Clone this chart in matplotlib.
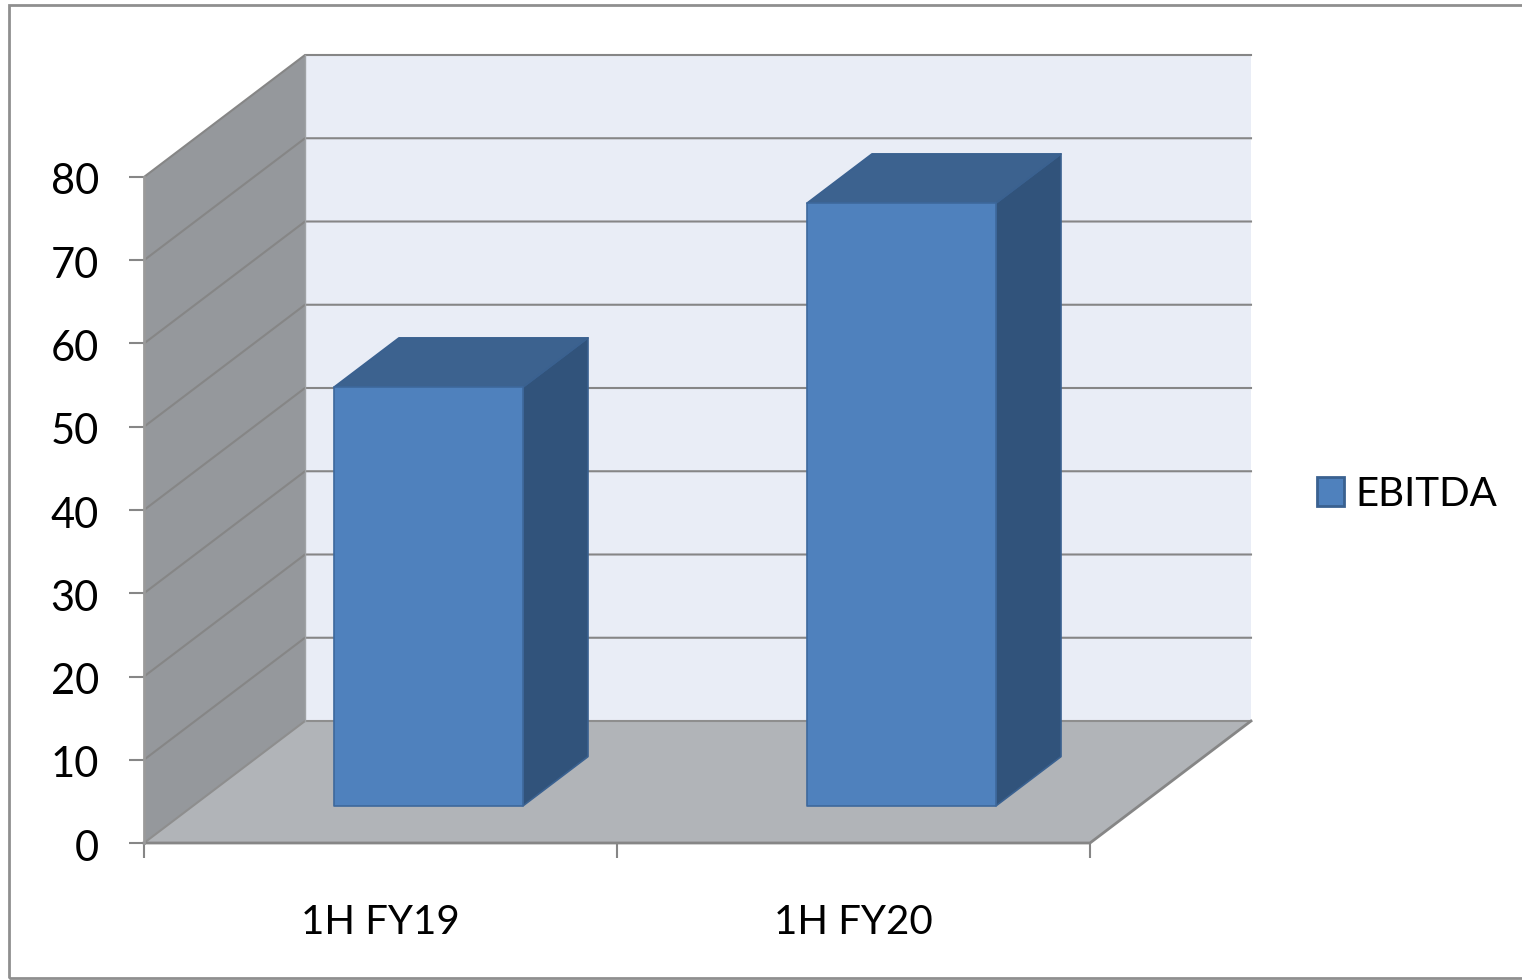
import matplotlib
matplotlib.use("Agg")
import matplotlib.pyplot as plt
from matplotlib.patches import Polygon, Rectangle, Patch
from matplotlib.transforms import ScaledTranslation

plt.rcParams['font.family'] = ['Lato', 'DejaVu Sans']

categories = ["1H FY19", "1H FY20"]
series_name = "EBITDA"
values = [50.3, 72.4]
y_ticks = [0, 10, 20, 30, 40, 50, 60, 70, 80]

W, H = 1522, 980
L, R, B, T = 144, 1090, 843, 177
fig = plt.figure(figsize=(W / 100, H / 100), dpi=100, facecolor="white")
ax = fig.add_axes([L / W, 1 - B / H, (R - L) / W, (B - T) / H])
ax.set_xlim(0, 2)
ax.set_ylim(0, 80)
ax.patch.set_alpha(0)
for s in ax.spines.values():
    s.set_visible(False)

GRID = "#868686"
DX = 161 / (R - L) * 2
DY = 122 / (B - T) * 80
bar_w = 189 / (R - L) * 2
bar_d = 65 / 161          # bar depth as fraction of floor depth
bar_z = 49 / 161          # front-face inset as fraction of floor depth
bar_shift = -1 / (R - L) * 2


def poly(pts, fc, ec=None, lw=1.2, z=2):
    ax.add_patch(Polygon(pts, closed=True, facecolor=fc, edgecolor=ec or fc,
                         linewidth=lw, clip_on=False, zorder=z, joinstyle="round"))


# back wall, side wall, floor
poly([(DX, DY), (2 + DX, DY), (2 + DX, 80 + DY), (DX, 80 + DY)], "#E9EDF6", z=1, lw=0)
poly([(0, 0), (DX, DY), (DX, 80 + DY), (0, 80)], "#95989C", z=1, lw=0)
poly([(0, 0), (2, 0), (2 + DX, DY), (DX, DY)], "#B1B4B8", z=1, lw=0)

# gridlines on the walls
for v in y_ticks[1:]:
    ax.plot([0, DX, 2 + DX], [v, v + DY, v + DY], color=GRID, lw=1.5,
            clip_on=False, zorder=1.5, solid_joinstyle="miter")
ax.plot([0, DX, 2 + DX], [0, DY, DY], color="#8E8E8E", lw=1.5, clip_on=False, zorder=1.5)
ax.plot([DX, DX], [DY, 80 + DY], color="#A0A3A6", lw=1, clip_on=False, zorder=1.5)
# floor edge
ax.plot([0, 2, 2 + DX], [0, 0, DY], color=GRID, lw=2, clip_on=False, zorder=1.6)
ax.plot([0, 0], [0, 80], color="#9A9A9A", lw=2, clip_on=False, zorder=1.6)

# 3-D bars
for i, v in enumerate(values):
    x0 = i + 0.5 - bar_w / 2 + DX * bar_z + bar_shift
    x1 = x0 + bar_w
    y0 = DY * bar_z
    y1 = y0 + v
    ddx, ddy = DX * bar_d, DY * bar_d
    poly([(x1, y0), (x1 + ddx, y0 + ddy), (x1 + ddx, y1 + ddy), (x1, y1)], "#31537B",
         ec="#3A6190", z=3)
    poly([(x0, y1), (x1, y1), (x1 + ddx, y1 + ddy), (x0 + ddx, y1 + ddy)], "#3C628F",
         ec="#3A6190", z=3)
    poly([(x0, y0), (x1, y0), (x1, y1), (x0, y1)], "#4F81BD", ec="#3D689C", z=4)

# axes ticks and labels
ax.set_yticks(y_ticks)
ax.tick_params(axis="y", length=10.5, width=1.5, color=GRID, labelsize=30, pad=22,
               labelcolor="black")
down = ScaledTranslation(0, -2 / 100, fig.dpi_scale_trans)
for lab in ax.get_yticklabels():
    lab.set_transform(lab.get_transform() + down)
ax.set_xticks([0, 1, 2])
ax.set_xticklabels([])
ax.tick_params(axis="x", which="major", length=10.5, width=1.5, color=GRID)
ax.set_xticks([0.5, 1.5], minor=True)
ax.set_xticklabels(categories, minor=True)
ax.tick_params(axis="x", which="minor", length=0, labelsize=29, pad=44, labelcolor="black")

# legend
handle = Patch(facecolor="#4F81BD", edgecolor="#3A6190", linewidth=2, label=series_name)
fig.legend(handles=[handle], loc="center left", bbox_to_anchor=(1317 / W, 1 - 494 / H),
           frameon=False, fontsize=29, handlelength=0.66, handleheight=0.72,
           handletextpad=0.3, borderpad=0, borderaxespad=0)

# chart frame (right side runs off the image)
fig.add_artist(Rectangle((8.5 / W, 1 - 978 / H), (W + 20) / W, (978 - 5) / H,
                         transform=fig.transFigure, facecolor="none",
                         edgecolor="#8F8F8F", linewidth=2, zorder=10))

fig.savefig("out.png", dpi=100)
